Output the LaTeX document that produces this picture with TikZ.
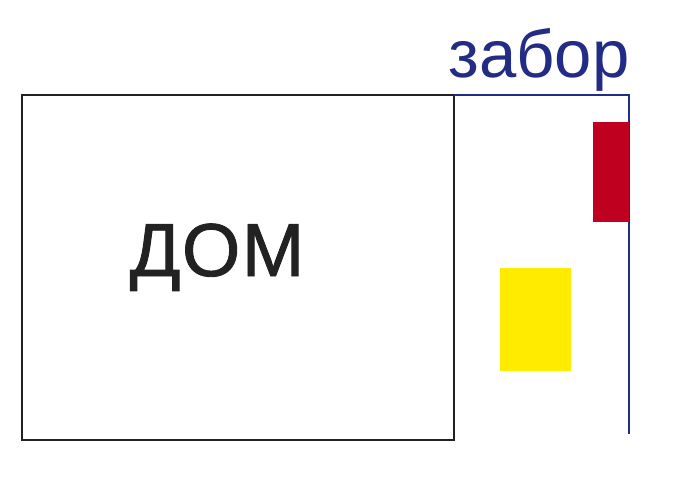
\documentclass[tikz,border=0pt]{standalone}
\usepackage{fontspec}
\setmainfont{Liberation Sans}
\newfontfamily\domfont[FakeBold=1.2,LetterSpace=2]{Liberation Sans}
\definecolor{fenceblue}{HTML}{232C84}
\definecolor{houseline}{HTML}{222222}
\definecolor{redbox}{HTML}{C0001F}
\definecolor{yellowbox}{HTML}{FFEB00}
\begin{document}
\begin{tikzpicture}[x=1pt,y=-1pt,
  house/.style={draw=houseline,line width=1.4pt},
  fence/.style={draw=fenceblue,line width=1.2pt},
  label/.style={inner sep=0pt,anchor=base}]
\useasboundingbox[fill=white] (0,0) rectangle (700,495);
\draw[house] (22,95) rectangle (454,440);
\draw[fence] (454,95) -- (629,95) -- (629,434);
\fill[redbox] (593,122) rectangle (629,222);
\fill[yellowbox] (500,268) rectangle (571,371);
\node[label,text=houseline,font=\domfont\fontsize{75}{80}\selectfont] (dom) at (217,276) {ДОМ};
\node[label,text=fenceblue,font=\fontsize{67}{72}\selectfont] (zabor) at (539,77) {забор};
\end{tikzpicture}
\end{document}
